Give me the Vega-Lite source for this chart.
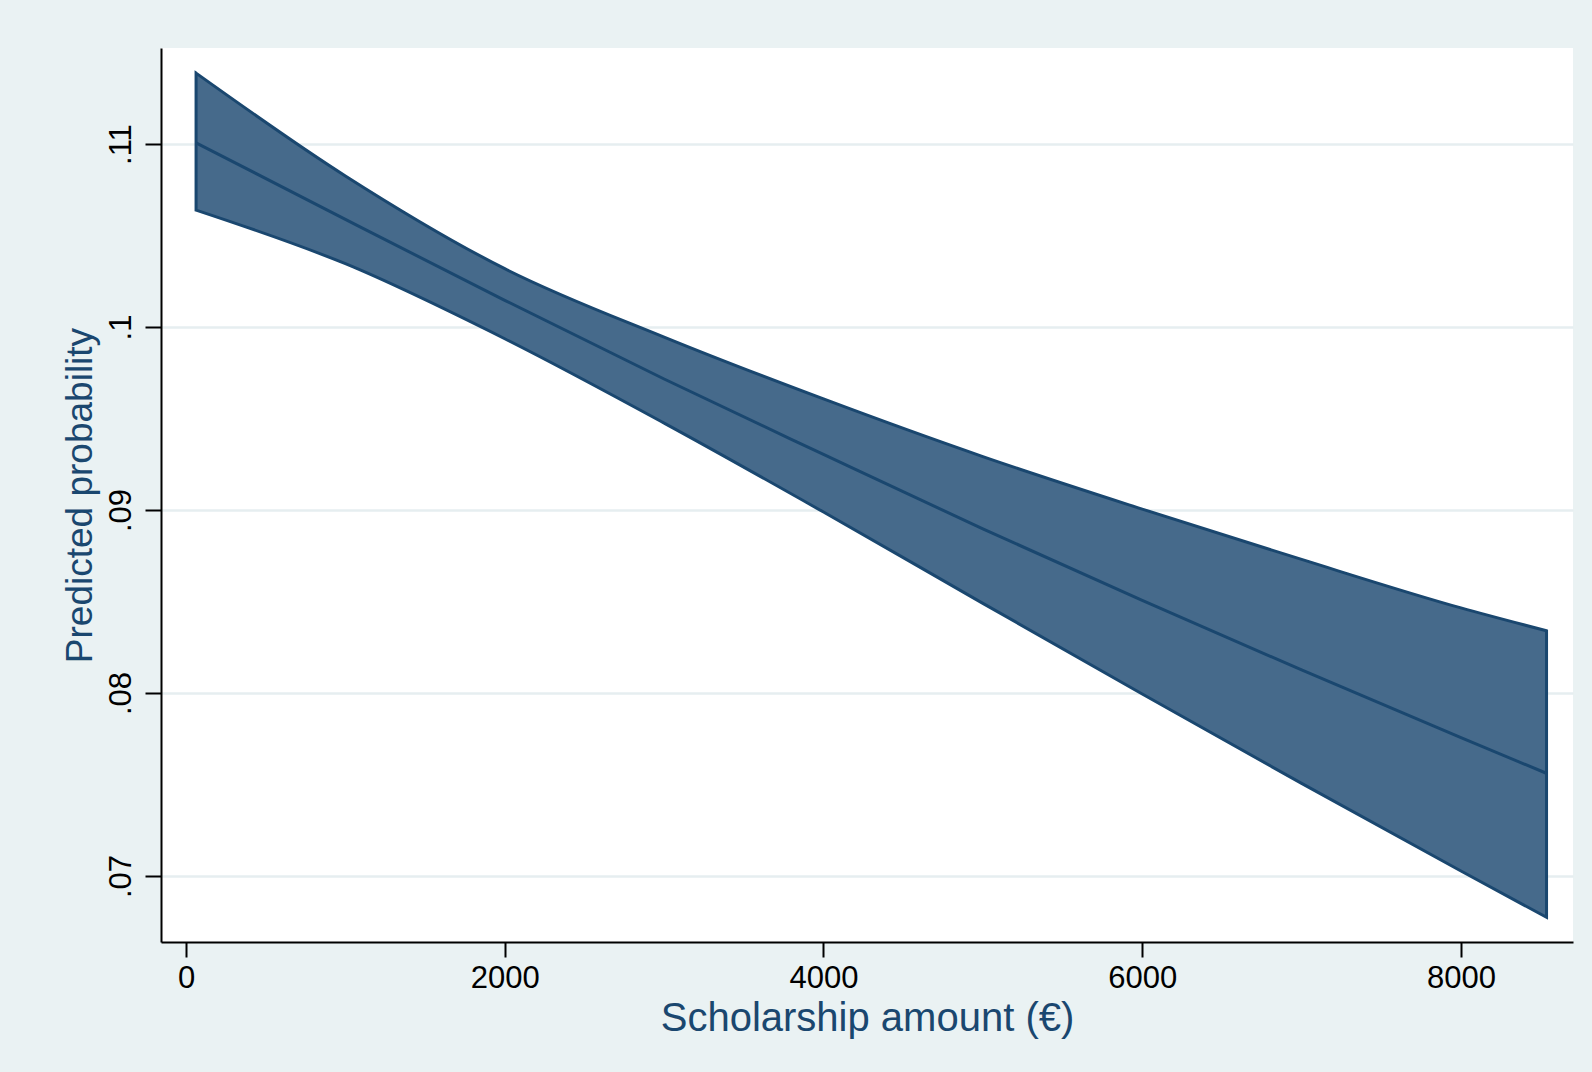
{
  "$schema": "https://vega.github.io/schema/vega-lite/v6.json",
  "width": 1412,
  "height": 894,
  "autosize": {"type": "none"},
  "padding": {"left": 161, "top": 48, "right": 19, "bottom": 130},
  "background": "#EAF2F3",
  "config": {
    "view": {"fill": "white", "stroke": null},
    "font": "Liberation Sans"
  },
  "data": {
    "values": [
      {"amount": 63, "lo": 0.10639, "mid": 0.11007, "hi": 0.11388},
      {"amount": 1000, "lo": 0.10346, "mid": 0.10588, "hi": 0.10826},
      {"amount": 2000, "lo": 0.09936, "mid": 0.10146, "hi": 0.10319},
      {"amount": 3000, "lo": 0.09475, "mid": 0.09716, "hi": 0.09945},
      {"amount": 4000, "lo": 0.08989, "mid": 0.09304, "hi": 0.09607},
      {"amount": 5000, "lo": 0.08490, "mid": 0.08897, "hi": 0.09292},
      {"amount": 6000, "lo": 0.07995, "mid": 0.08506, "hi": 0.09005},
      {"amount": 7000, "lo": 0.07506, "mid": 0.08126, "hi": 0.08730},
      {"amount": 8000, "lo": 0.07027, "mid": 0.07756, "hi": 0.08465},
      {"amount": 8537, "lo": 0.06774, "mid": 0.07561, "hi": 0.08340}
    ]
  },
  "encoding": {
    "x": {
      "field": "amount",
      "type": "quantitative",
      "scale": {"domain": [-157, 8703], "nice": false, "zero": false},
      "axis": {
        "title": "Scholarship amount (€)",
        "values": [0, 2000, 4000, 6000, 8000],
        "format": "d",
        "grid": false,
        "domainColor": "black",
        "domainWidth": 2,
        "tickColor": "black",
        "tickWidth": 2,
        "tickSize": 15,
        "labelFontSize": 31,
        "labelColor": "black",
        "labelPadding": 6,
        "labelFont": "Liberation Sans",
        "titleFont": "Liberation Sans",
        "titleFontSize": 40,
        "titleFontWeight": "normal",
        "titleColor": "#1A476F",
        "titleY": 88,
        "titleBaseline": "alphabetic"
      }
    }
  },
  "layer": [
    {
      "mark": {"type": "area", "fill": "#466A8B", "fillOpacity": 1, "stroke": "#1A476F", "strokeWidth": 3, "interpolate": "monotone"},
      "encoding": {
        "y": {
          "field": "lo",
          "type": "quantitative",
          "scale": {"domain": [0.066393, 0.11525], "nice": false, "zero": false},
          "axis": {
            "title": "Predicted probability",
            "values": [0.07, 0.08, 0.09, 0.1, 0.11],
            "labelExpr": "replace(format(datum.value, '.2~f'), '0.', '.')",
            "grid": true,
            "gridColor": "#E6EEF0",
            "gridWidth": 2.5,
            "domainColor": "black",
            "domainWidth": 2,
            "tickColor": "black",
            "tickWidth": 2,
            "tickSize": 16,
            "labelFontSize": 31,
            "labelColor": "black",
            "labelAngle": -90,
            "labelAlign": "center",
            "labelBaseline": "alphabetic",
            "labelPadding": 15,
            "labelFont": "Liberation Sans",
            "titleFont": "Liberation Sans",
            "titleFontSize": 37,
            "titleFontWeight": "normal",
            "titleColor": "#1A476F",
            "titleX": -81,
            "titleBaseline": "middle"
          }
        },
        "y2": {"field": "hi"}
      }
    },
    {
      "mark": {"type": "line", "color": "#1A476F", "strokeWidth": 3, "interpolate": "monotone"},
      "encoding": {
        "y": {"field": "mid", "type": "quantitative"}
      }
    }
  ]
}
